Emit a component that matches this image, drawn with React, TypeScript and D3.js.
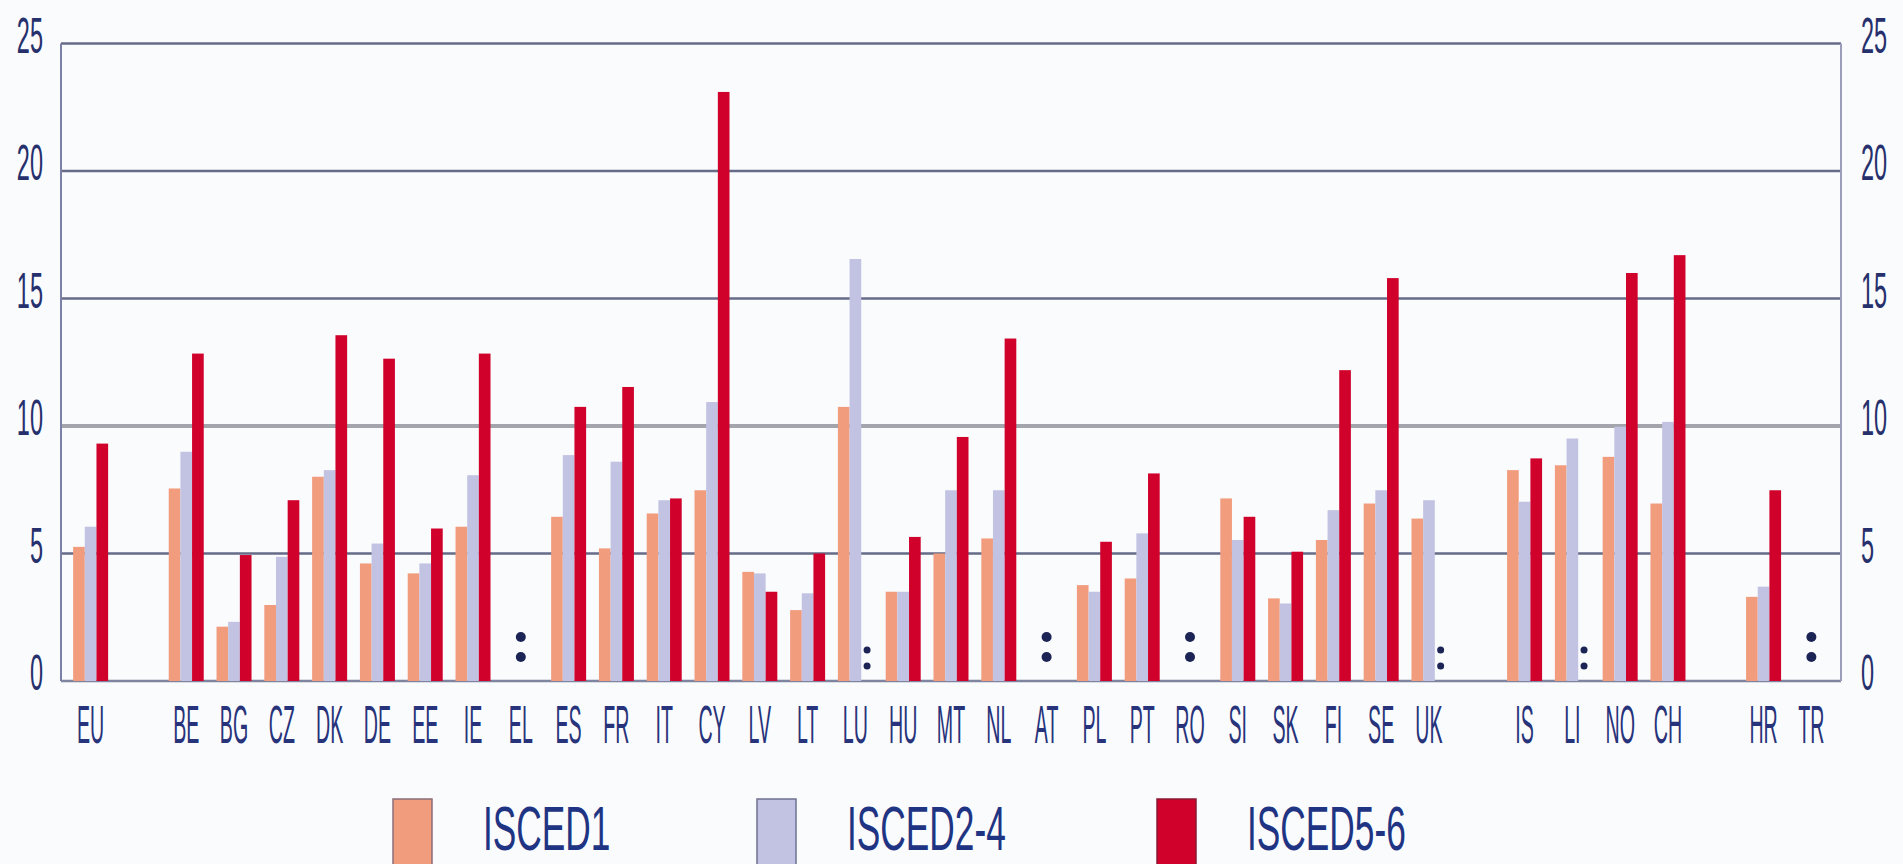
import React from "react";
import * as d3 from "d3";

// ---- Data ----
const categories: string[] = [
  "EU", "", "BE", "BG", "CZ", "DK", "DE", "EE", "IE", "EL", "ES", "FR", "IT", "CY",
  "LV", "LT", "LU", "HU", "MT", "NL", "AT", "PL", "PT", "RO", "SI", "SK", "FI", "SE",
  "UK", "", "IS", "LI", "NO", "CH", "", "HR", "TR",
];

const isced1: (number | null)[] = [
  5.26, null, 7.55, 2.13, 2.98, 8.01, 4.61, 4.22, 6.05, null, 6.44, 5.2, 6.57, 7.48,
  4.28, 2.78, 10.75, 3.5, 5.0, 5.59, null, 3.76, 4.02, null, 7.16, 3.24, 5.53, 6.96,
  6.37, null, 8.27, 8.46, 8.79, 6.96, null, 3.3, null,
];

const isced24: (number | null)[] = [
  6.05, null, 8.99, 2.32, 4.87, 8.27, 5.39, 4.61, 8.07, null, 8.86, 8.6, 7.09, 10.94,
  4.22, 3.44, 16.55, 3.5, 7.48, 7.48, null, 3.5, 5.79, null, 5.53, 3.04, 6.7, 7.48,
  7.09, null, 7.03, 9.51, 9.97, 10.16, null, 3.7, null,
];

const isced56: (number | null)[] = [
  9.31, null, 12.84, 4.94, 7.09, 13.56, 12.64, 5.98, 12.84, null, 10.75, 11.53, 7.16, 23.1,
  3.5, 5.0, null, 5.65, 9.57, 13.43, null, 5.46, 8.14, null, 6.44, 5.07, 12.19, 15.8,
  null, null, 8.73, null, 16.0, 16.7, null, 7.48, null,
];

const seriesNames: string[] = ["ISCED1", "ISCED2-4", "ISCED5-6"];
const seriesColors: string[] = ["#f29c7e", "#c2c3e3", "#d0022c"];
const seriesBorders: string[] = ["#8a6d78", "#6e7290", "#8a1a35"];
const yTicks: number[] = [0, 5, 10, 15, 20, 25];

const W = 1903;
const H = 864;

export default function App() {
  const left = 61;
  const right = 1841;
  const top = 43.5;
  const bottom = 681;

  const slotKeys = categories.map((c, i) => (c ? c : `_gap${i}`));
  const x = d3.scalePoint<string>().domain(slotKeys).range([left, right]).padding(0.62);
  const sub = d3.scaleBand<string>().domain(seriesNames).range([-17.5, 17.5]).padding(0);
  const y = d3.scaleLinear().domain([0, 25]).range([bottom, top]);

  const series = [isced1, isced24, isced56];

  const tickFont = "'Liberation Sans', Arial, sans-serif";
  const navy = "#26306c";

  const legendX = [393, 757, 1157];

  return (
    <svg
      width={W}
      height={H}
      style={{ position: "absolute", left: 0, top: 0, background: "#fafbfd" }}
    >
      {/* gridlines */}
      {yTicks.map((t) => (
        <line
          key={"g" + t}
          x1={left}
          x2={right}
          y1={y(t)}
          y2={y(t)}
          stroke={t === 10 ? "#a4a4ad" : t === 0 ? "#7f84a0" : "#666b88"}
          strokeWidth={t === 10 ? 4 : 2.6}
        />
      ))}
      {/* vertical axis lines */}
      <line x1={left} x2={left} y1={top} y2={bottom} stroke="#7a80a6" strokeWidth={2} />
      <line x1={right} x2={right} y1={top} y2={bottom} stroke="#9a9eb8" strokeWidth={2} />

      {/* bars */}
      {series.map((vals, si) =>
        vals.map((v, ci) => {
          if (v === null || !categories[ci]) return null;
          const cx = x(slotKeys[ci]) as number;
          const bx = cx + (sub(seriesNames[si]) as number);
          return (
            <rect
              key={`b${si}-${ci}`}
              x={bx}
              y={y(v)}
              width={sub.bandwidth()}
              height={y(0) - y(v)}
              fill={seriesColors[si]}
            />
          );
        })
      )}

      {/* missing-data markers ":" */}
      {categories.map((c, ci) => {
        if (!c) return null;
        const cx = x(slotKeys[ci]) as number;
        const vals = series.map((s) => s[ci]);
        if (vals.every((v) => v === null)) {
          return (
            <g key={"m" + ci} fill="#1b2454">
              <circle cx={cx} cy={637} r={5} />
              <circle cx={cx} cy={657} r={5} />
            </g>
          );
        }
        return vals.map((v, si) =>
          v === null ? (
            <g key={`m${ci}-${si}`} fill="#1b2454">
              <circle
                cx={cx + (sub(seriesNames[si]) as number) + sub.bandwidth() / 2}
                cy={650}
                r={3.5}
              />
              <circle
                cx={cx + (sub(seriesNames[si]) as number) + sub.bandwidth() / 2}
                cy={666}
                r={3.5}
              />
            </g>
          ) : null
        );
      })}

      {/* left y tick labels */}
      {yTicks.map((t) => (
        <text
          key={"l" + t}
          transform={`translate(43,${y(t) + 9}) scale(0.47,1)`}
          textAnchor="end"
          fontFamily={tickFont}
          fontSize={50}
          fill={navy}
        >
          {t}
        </text>
      ))}
      {/* right y tick labels */}
      {yTicks.map((t) => (
        <text
          key={"r" + t}
          transform={`translate(1861,${y(t) + 9}) scale(0.47,1)`}
          textAnchor="start"
          fontFamily={tickFont}
          fontSize={50}
          fill={navy}
        >
          {t}
        </text>
      ))}

      {/* category labels */}
      {categories.map((c, ci) =>
        c ? (
          <text
            key={"c" + ci}
            transform={`translate(${x(slotKeys[ci])},743) scale(0.37,1)`}
            textAnchor="middle"
            fontFamily={tickFont}
            fontSize={53}
            fill="#27337a"
          >
            {c}
          </text>
        ) : null
      )}

      {/* legend */}
      {seriesNames.map((n, i) => (
        <g key={"lg" + i}>
          <rect
            x={legendX[i]}
            y={799}
            width={39}
            height={80}
            fill={seriesColors[i]}
            stroke={seriesBorders[i]}
            strokeWidth={1.5}
          />
          <text
            transform={`translate(${legendX[i] + 90},850) scale(0.56,1)`}
            fontFamily={tickFont}
            fontSize={63}
            fill="#1f3583"
          >
            {n}
          </text>
        </g>
      ))}
    </svg>
  );
}
